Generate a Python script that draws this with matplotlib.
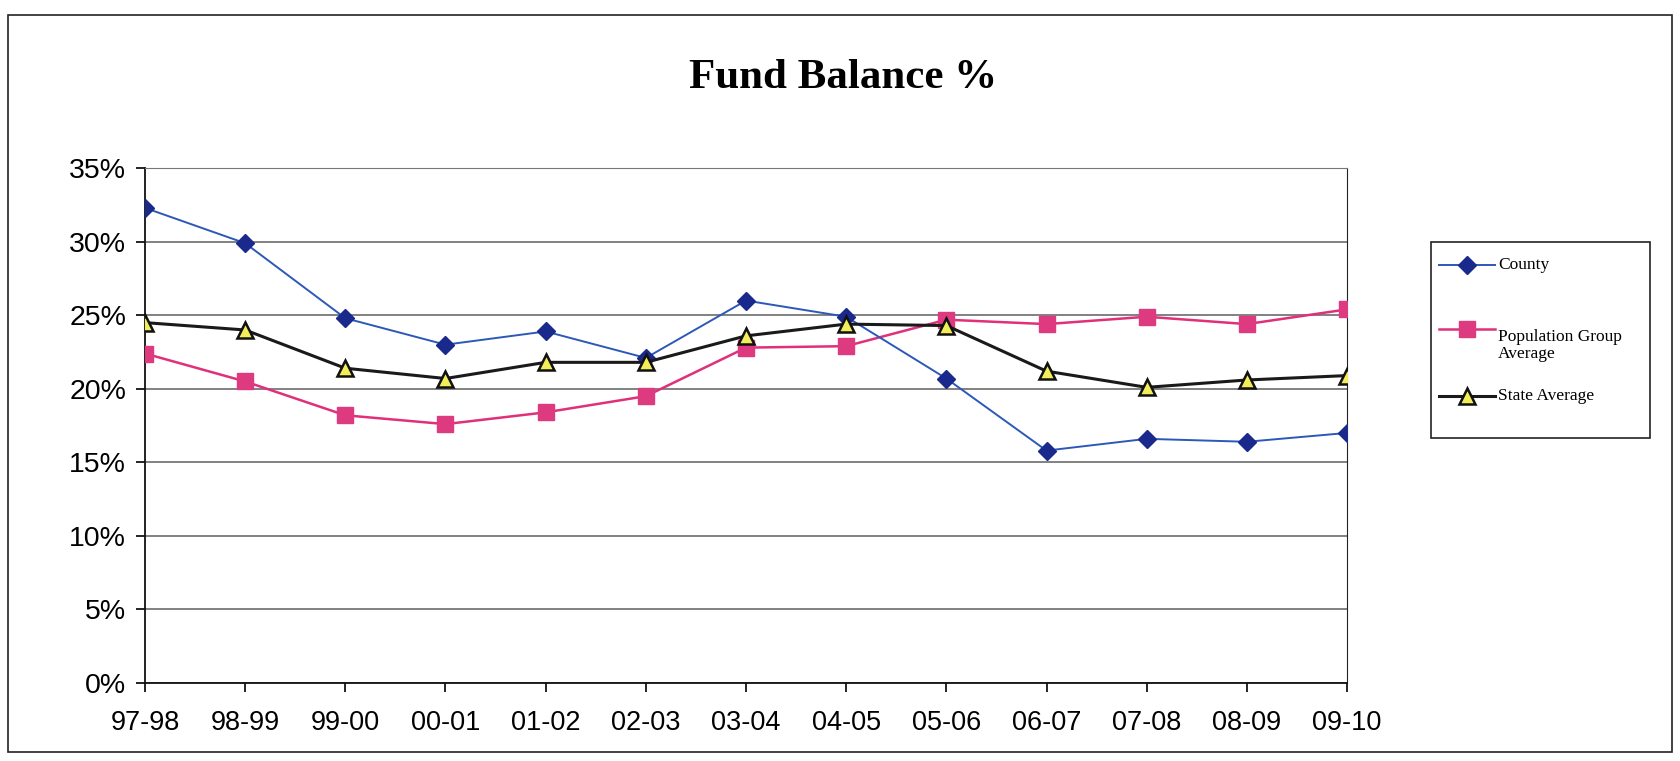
import matplotlib
matplotlib.use('Agg')
from matplotlib import pyplot as plt
from matplotlib.lines import Line2D
from matplotlib.patches import Rectangle
from matplotlib.ticker import FuncFormatter

years = ['97-98', '98-99', '99-00', '00-01', '01-02', '02-03', '03-04',
         '04-05', '05-06', '06-07', '07-08', '08-09', '09-10']
county = [32.3, 29.9, 24.8, 23.0, 23.9, 22.1, 26.0, 24.9, 20.7, 15.8, 16.6, 16.4, 17.0]
pop_group = [22.4, 20.5, 18.2, 17.6, 18.4, 19.5, 22.8, 22.9, 24.7, 24.4, 24.9, 24.4, 25.4]
state = [24.5, 24.0, 21.4, 20.7, 21.8, 21.8, 23.6, 24.4, 24.3, 21.2, 20.1, 20.6, 20.9]

serif = 'Liberation Serif'
sans = 'Liberation Sans'

styles = [
    dict(color='#2c58b8', lw=1.4, marker='D', ms=9, mfc='#1a2a8c', mec='#1a2a8c'),
    dict(color='#e0307a', lw=1.8, marker='s', ms=11, mfc='#dd3a80', mec='#dd3a80'),
    dict(color='#1a1a1a', lw=2.2, marker='^', ms=12, mfc='#f2ee5a', mec='#111111', mew=1.8),
]
names = ['County', 'Population Group\nAverage', 'State Average']

fig = plt.figure(figsize=(16.8, 7.61), dpi=100)
ax = fig.add_axes([0.0863, 0.1025, 0.7155, 0.6765])

x = list(range(len(years)))
for vals, st, z in zip([county, pop_group, state], styles, [4, 3, 5]):
    ax.plot(x, vals, zorder=z, **st)

ax.set_xlim(0, 12)
ax.set_ylim(0, 35)
ax.set_yticks(range(0, 36, 5))
ax.yaxis.set_major_formatter(FuncFormatter(lambda v, p: '%d%%' % v))
ax.set_xticks(x)
ax.set_xticklabels(years)
ax.grid(axis='y', color='#777777', lw=1.3)
ax.set_axisbelow(True)
for side in ['left', 'bottom']:
    ax.spines[side].set_color('#111111')
    ax.spines[side].set_linewidth(1.3)
ax.spines['top'].set_color('#777777')
ax.spines['right'].set_color('#222222')
ax.tick_params(axis='both', direction='out', length=6.5, width=1.2)
ax.tick_params(axis='y', pad=7, labelsize=20.5)
ax.tick_params(axis='x', pad=13, labelsize=19.5)
for lab in ax.get_xticklabels() + ax.get_yticklabels():
    lab.set_fontfamily(sans)

fig.text(0.502, 0.898, 'Fund Balance %', ha='center', va='center',
         fontsize=31, fontweight='bold', family=serif)

# legend, built by hand so the two-line entry sits like the original
fig.patches.append(Rectangle((0.852, 0.4244), 0.130, 0.2576, transform=fig.transFigure,
                             fill=False, ec='#222222', lw=1.2))
handle_y = [0.6518, 0.5677, 0.4796]
text_y = [0.6518, 0.546, 0.4796]
for st, name, hy, ty in zip(styles, names, handle_y, text_y):
    fig.lines.append(Line2D([0.8565, 0.8899], [hy, hy], transform=fig.transFigure,
                            markevery=[1], **st))
    fig.text(0.8917, ty, name, ha='left', va='center', fontsize=12.5,
             family=serif, linespacing=1.1)
# marker in the middle of each legend handle
for line in fig.lines:
    xs = line.get_xdata()
    line.set_data([xs[0], (xs[0] + xs[1]) / 2, xs[1]], [line.get_ydata()[0]] * 3)

fig.patches.append(Rectangle((0.005, 0.012), 0.99, 0.968, transform=fig.transFigure,
                             fill=False, ec='#222222', lw=1.2))

plt.savefig('out.png', dpi=100)
